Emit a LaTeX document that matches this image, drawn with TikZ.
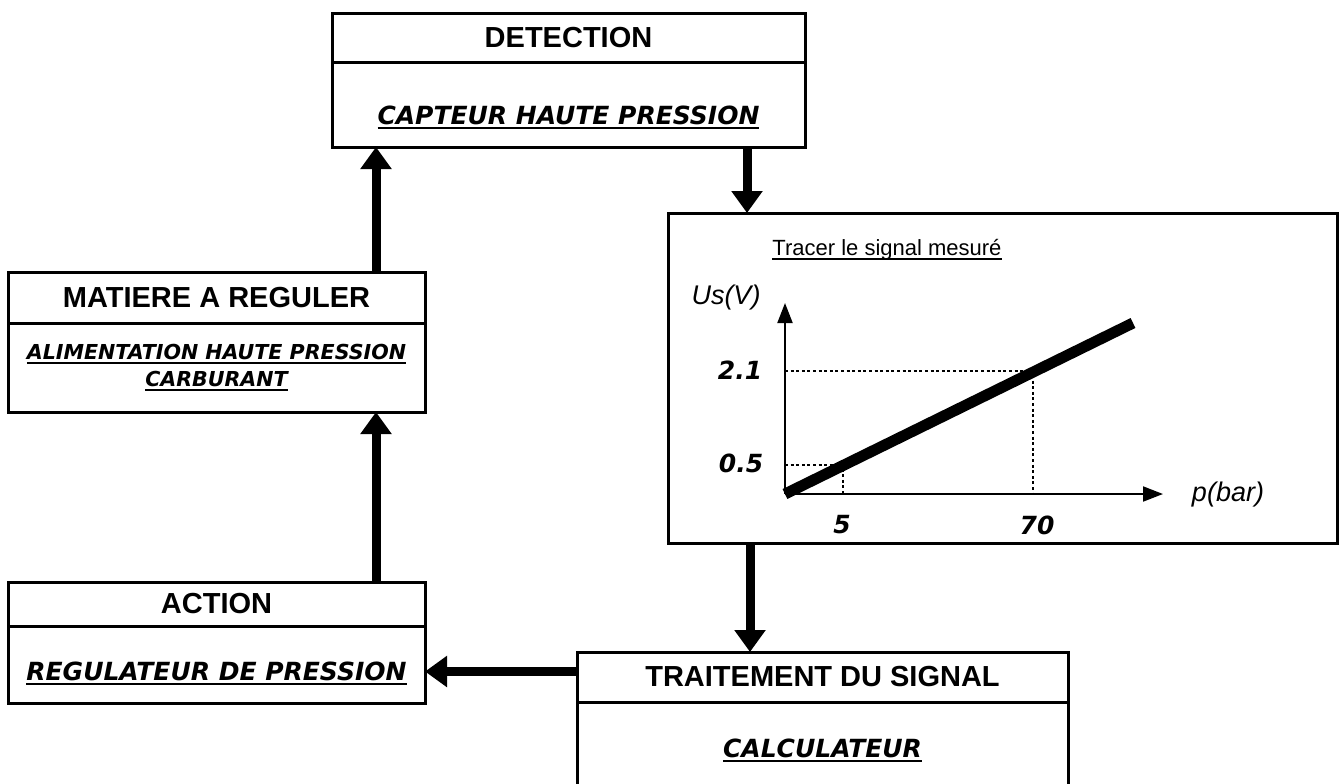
\documentclass[tikz,border=0pt]{standalone}
\usepackage{fontspec}
\setmainfont{Liberation Sans}
\newfontfamily\comicfont{DejaVu Sans}
\newcommand{\ulbox}[1]{\setbox0\hbox{#1}\leavevmode\rlap{\rule[-0.2em]{\wd0}{0.9pt}}\box0}
\usetikzlibrary{arrows.meta,positioning}

\begin{document}
\begin{tikzpicture}[
  x=0.5pt, y=-0.5pt,
  headbox/.style={draw, line width=1.5pt, outer sep=0pt, inner sep=0pt,
    font=\fontsize{14.5}{17}\selectfont\bfseries},
  bodybox/.style={draw, line width=1.5pt, outer sep=0pt, inner sep=0pt,
    font=\comicfont\fontsize{12.5}{15}\selectfont\bfseries\itshape},
  smallbody/.style={bodybox, align=center,
    font=\comicfont\fontsize{10.3}{13.5}\selectfont\bfseries\itshape},
  plotbox/.style={draw, line width=1.5pt, outer sep=0pt, inner sep=0pt},
  flowarrow/.style={-{Triangle[length=11pt,width=15pt]}, line width=4.5pt},
  axis/.style={-{Triangle[length=10pt,width=7.5pt]}, line width=1pt},
  guide/.style={line width=1.2pt, dash pattern=on 1.5pt off 1.3pt},
  signal/.style={line width=5.5pt},
  numlabel/.style={font=\comicfont\fontsize{12.5}{15}\selectfont\bfseries\itshape},
  axislabel/.style={font=\fontsize{13.5}{16}\selectfont\itshape}
]
\path[use as bounding box, fill=white] (0,0) rectangle (1340,783);

% chain boxes
\node[headbox, anchor=north west, minimum width=236.5pt, minimum height=24.5pt] (detHead) at (332,13) {DETECTION};
\node[bodybox, minimum width=236.5pt, text height=31pt, text depth=11.5pt, below=0pt of detHead] (detBody) {\ulbox{CAPTEUR HAUTE PRESSION}};

\node[headbox, anchor=north west, minimum width=208.5pt, minimum height=25.5pt] (matHead) at (8,272) {MATIERE A REGULER};
\node[smallbody, minimum width=208.5pt, minimum height=44.5pt, below=0pt of matHead] (matBody) {\ulbox{ALIMENTATION HAUTE PRESSION}\\\ulbox{CARBURANT}};

\node[headbox, anchor=north west, minimum width=208.5pt, minimum height=22pt] (actHead) at (8,582) {ACTION};
\node[bodybox, minimum width=208.5pt, text height=27pt, text depth=11.5pt, below=0pt of actHead] (actBody) {\ulbox{REGULATEUR DE PRESSION}};

\node[headbox, anchor=north west, minimum width=245.5pt, minimum height=25pt] (trtHead) at (577,652) {TRAITEMENT DU SIGNAL};
\node[bodybox, minimum width=245.5pt, text height=27.5pt, text depth=17.5pt, below=0pt of trtHead] (trtBody) {\ulbox{CALCULATEUR}};

\node[plotbox, anchor=north west, minimum width=334.5pt, minimum height=165pt] (plotBox) at (668,213) {};
\node[font=\fontsize{11}{13}\selectfont] (plotTitle) at (887,250) {\ulbox{Tracer le signal mesuré}};

% loop arrows
\coordinate (detOut) at ([xshift=207.5pt]detBody.south west);
\coordinate (plotOut) at ([xshift=41pt]plotBox.south west);
\coordinate (trtOut) at ([yshift=2.75pt]trtHead.west);
\coordinate (actOut) at ([xshift=-24.5pt]actHead.north east);
\coordinate (matOut) at ([xshift=-24.5pt]matHead.north east);
\draw[flowarrow] (detOut) -- (detOut |- plotBox.north);
\draw[flowarrow] (plotOut) -- (plotOut |- trtHead.north);
\draw[flowarrow] (trtOut) -- (trtOut -| actBody.east);
\draw[flowarrow] (actOut) -- (actOut |- matBody.south);
\draw[flowarrow] (matOut) -- (matOut |- detBody.south);

% sensor curve
\coordinate (orig) at (785,494);
\coordinate (yEnd) at (785,303);
\coordinate (xEnd) at (1163,494);
\coordinate (ptHi) at (1033,371);
\coordinate (ptLo) at (843,465);
\coordinate (lineEnd) at (1133,323);
\draw[guide] (orig |- ptHi) -- (ptHi) -- (ptHi |- orig);
\draw[guide] (orig |- ptLo) -- (ptLo) -- (ptLo |- orig);
\draw[axis] (orig) -- (yEnd);
\draw[axis] (orig) -- (xEnd);
\draw[signal] (orig) -- (lineEnd);
\node[numlabel] (lblHi) at (740,370) {2.1};
\node[numlabel] (lblLo) at (741,463) {0.5};
\node[numlabel] (lblFive) at (842,525) {5};
\node[numlabel] (lblSeventy) at (1037,525) {70};
\node[axislabel] (lblU) at (726,298) {Us(V)};
\node[axislabel] (lblP) at (1228,495) {p(bar)};
\end{tikzpicture}
\end{document}
